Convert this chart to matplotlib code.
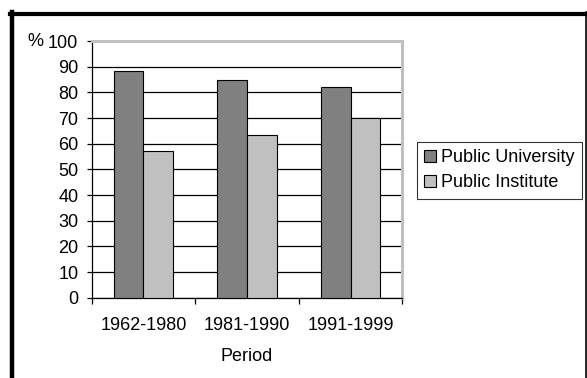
import matplotlib
matplotlib.use("Agg")
import matplotlib.pyplot as plt
from matplotlib.lines import Line2D
from matplotlib.patches import Patch

plt.rcParams['font.family'] = ['Liberation Sans', 'DejaVu Sans']

periods = ["1962-1980", "1981-1990", "1991-1999"]
series_names = ["Public University", "Public Institute"]
university = [88.3, 85.0, 82.0]
institute = [57.0, 63.3, 70.0]
colors = ["#808080", "#C0C0C0"]

FS = 13
W, H = 587, 378
fig = plt.figure(figsize=(W / 100, H / 100), dpi=100)

left, right, top, bottom = 91.7, 402.3, 41.0, 297.7
ax = fig.add_axes([left / W, 1 - bottom / H, (right - left) / W, (bottom - top) / H])

bw = 0.2875
x = list(range(len(periods)))
ax.bar([i - bw / 2 for i in x], university, width=bw, color=colors[0],
       edgecolor="black", linewidth=0.8, zorder=3)
ax.bar([i + bw / 2 for i in x], institute, width=bw, color=colors[1],
       edgecolor="black", linewidth=0.8, zorder=3)

ax.set_xlim(-0.5, len(periods) - 0.5)
ax.set_ylim(0, 100)
ax.set_yticks(range(0, 101, 10))
ax.yaxis.grid(True, color="black", linewidth=0.9, zorder=0)
ax.set_axisbelow(True)

# category boundaries carry the tick marks, centres carry the labels
ax.set_xticks([i - 0.5 for i in range(len(periods) + 1)])
ax.set_xticklabels([])
ax.set_xticks(x, minor=True)
ax.set_xticklabels(periods, minor=True)
ax.tick_params(axis="x", which="major", direction="out", length=4.3, width=0.9)
ax.tick_params(axis="x", which="minor", length=0, pad=14, labelsize=FS)
ax.tick_params(axis="y", direction="out", length=3.6, width=0.9, labelsize=FS, pad=6)

for side in ("top", "right"):
    ax.spines[side].set_color("#C0C0C0")
    ax.spines[side].set_linewidth(2.2)
for side in ("left", "bottom"):
    ax.spines[side].set_color("black")
    ax.spines[side].set_linewidth(0.9)

ax.set_xlabel("Period", fontsize=FS, labelpad=10)
fig.text(27 / W, 1 - 41 / H, "%", fontsize=FS, ha="left", va="center")

handles = [Patch(facecolor=c, edgecolor="black", linewidth=0.8) for c in colors]
leg = fig.legend(handles, series_names, loc="upper left",
                 bbox_to_anchor=(417 / W, 1 - 142 / H), fontsize=FS,
                 frameon=True, fancybox=False, shadow=False,
                 handlelength=0.65, handleheight=0.65, handletextpad=0.3,
                 borderpad=0.4, labelspacing=0.45, borderaxespad=0)
leg.get_frame().set_edgecolor("black")
leg.get_frame().set_linewidth(0.8)

# outer frame
fig.add_artist(Line2D([12 / W, 12 / W], [0, 1 - 12 / H], transform=fig.transFigure,
                      color="black", linewidth=3.2))
fig.add_artist(Line2D([10 / W, 586.5 / W], [1 - 13.5 / H, 1 - 13.5 / H],
                      transform=fig.transFigure, color="black", linewidth=3.0))
fig.add_artist(Line2D([585.8 / W, 585.8 / W], [0, 1 - 12 / H], transform=fig.transFigure,
                      color="black", linewidth=1.2))

fig.savefig("out.png", dpi=100)
